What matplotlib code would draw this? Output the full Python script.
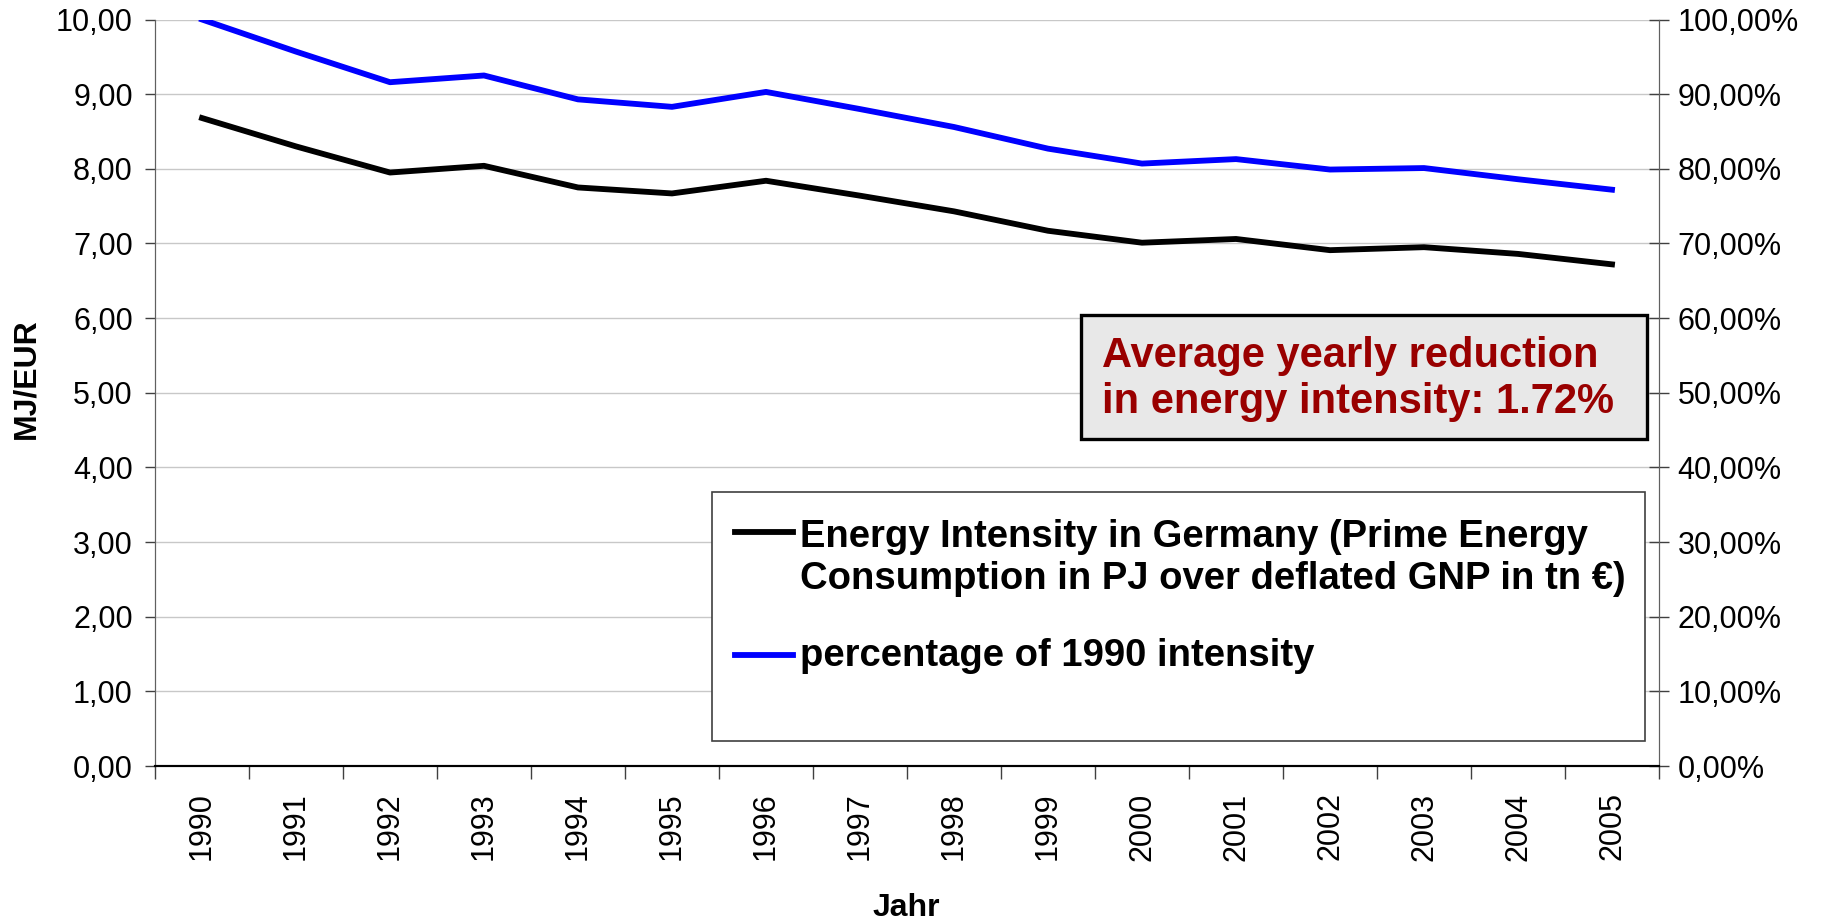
import matplotlib
matplotlib.use("Agg")
import matplotlib.pyplot as plt
from matplotlib import font_manager
from matplotlib.patches import Rectangle
from matplotlib.lines import Line2D
from matplotlib.ticker import FuncFormatter, FixedLocator
import numpy as np

years = ["1990", "1991", "1992", "1993", "1994", "1995", "1996", "1997",
         "1998", "1999", "2000", "2001", "2002", "2003", "2004", "2005"]
intensity = [8.68, 8.30, 7.95, 8.04, 7.75, 7.67, 7.84, 7.64,
             7.43, 7.17, 7.01, 7.06, 6.91, 6.95, 6.86, 6.72]
pct_of_1990 = [1.000, 0.957, 0.916, 0.925, 0.893, 0.883, 0.903, 0.880,
               0.856, 0.827, 0.807, 0.813, 0.799, 0.801, 0.786, 0.772]
label_black = "Energy Intensity in Germany (Prime Energy\nConsumption in PJ over deflated GNP in tn \u20ac)"
label_blue = "percentage of 1990 intensity"
box_text = "Average yearly reduction\nin energy intensity: 1.72%"

plt.rcParams['font.family'] = ['Liberation Sans', 'DejaVu Sans']

# legend / box text in the original is a condensed bold face
installed = {f.name for f in font_manager.fontManager.ttflist}
if 'Liberation Sans Narrow' in installed:
    bold_family, k = ['Liberation Sans Narrow', 'Liberation Sans', 'DejaVu Sans'], 1.21
else:
    bold_family, k = ['Liberation Sans', 'DejaVu Sans'], 1.0

W, H = 1829, 924
fig = plt.figure(figsize=(W / 100, H / 100), dpi=100)
ax = fig.add_axes([155 / W, 1 - 766 / H, (1659 - 155) / W, (766 - 19.5) / H])
ax2 = ax.twinx()

x = np.arange(len(years))
ax.plot(x, intensity, color='black', lw=4.2, zorder=3)
ax2.plot(x, pct_of_1990, color='#0000FF', lw=4.2, zorder=3)

ax.set_xlim(-0.5, len(years) - 0.5)
ax.set_ylim(0, 10)
ax2.set_ylim(0, 1)
ax.set_yticks(np.arange(0, 11, 1))
ax2.set_yticks(np.arange(0, 1.01, 0.1))
ax.yaxis.set_major_formatter(FuncFormatter(lambda v, p: f"{v:.2f}".replace('.', ',')))
ax2.yaxis.set_major_formatter(FuncFormatter(lambda v, p: f"{v * 100:.2f}%".replace('.', ',')))

ax.set_xticks(x)
ax.set_xticklabels(years, rotation=90, fontsize=22)
ax.xaxis.set_minor_locator(FixedLocator(np.arange(-0.5, len(years), 1)))
ax.tick_params(axis='x', which='major', length=0, pad=19)
ax.tick_params(axis='x', which='minor', length=9, width=1, color='#404040', direction='out')
ax.tick_params(axis='y', length=7, width=1, color='#404040', labelsize=22, pad=9)
ax2.tick_params(axis='y', length=15, width=1, color='#404040', direction='inout', labelsize=22, pad=6)

ax.grid(axis='y', color='#C8C8C8', lw=1)
ax.set_axisbelow(True)
for a in (ax, ax2):
    a.spines['top'].set_visible(False)
    a.spines['left'].set_color('#606060')
    a.spines['right'].set_color('#606060')
    a.spines['bottom'].set_color('black')
    a.spines['bottom'].set_linewidth(1.5)


def fx(px):
    return px / W


def fy(py):
    return 1 - py / H


fig.text(fx(26), fy(379), "MJ/EUR", fontsize=23, fontweight='bold',
         rotation=90, ha='center', va='center')
fig.text(fx(906), fy(908), "Jahr", fontsize=23, fontweight='bold',
         ha='center', va='center')

# legend drawn by hand so the handle sits on the first text line
fig.add_artist(Rectangle((fx(712), fy(741)), fx(1645) - fx(712), fy(492) - fy(741),
                         transform=fig.transFigure, facecolor='white',
                         edgecolor='#404040', lw=1.2, zorder=5))
fig.add_artist(Line2D([fx(735), fx(793)], [fy(532), fy(532)], color='black', lw=4.2,
                      transform=fig.transFigure, zorder=6))
fig.add_artist(Line2D([fx(735), fx(793)], [fy(655), fy(655)], color='#0000FF', lw=4.2,
                      transform=fig.transFigure, zorder=6))
fig.text(fx(800), fy(558), label_black, fontsize=27.5 * k, fontweight='bold',
         family=bold_family, va='center', ha='left', linespacing=1.18 / k, zorder=7)
fig.text(fx(800), fy(656), label_blue, fontsize=27.5 * k, fontweight='bold',
         family=bold_family, va='center', ha='left', zorder=7)

# annotation box
fig.add_artist(Rectangle((fx(1081), fy(439)), fx(1647) - fx(1081), fy(315) - fy(439),
                         transform=fig.transFigure, facecolor='#E8E8E8',
                         edgecolor='black', lw=2.4, zorder=5))
fig.text(fx(1102), fy(379), box_text, fontsize=30 * k, fontweight='bold', color='#990000',
         family=bold_family, va='center', ha='left', linespacing=1.22 / k, zorder=7)

fig.savefig("out.png", dpi=100)
